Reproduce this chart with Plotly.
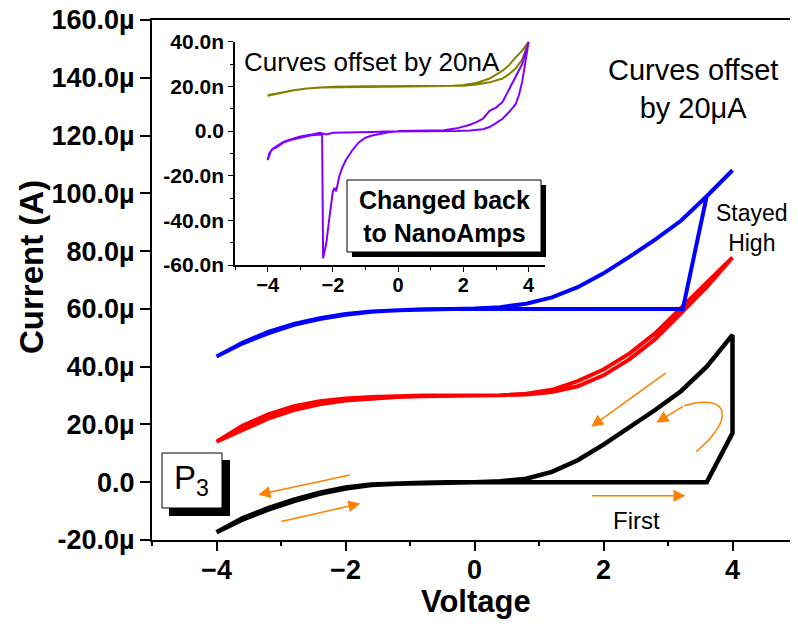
import plotly.graph_objects as go

# ---------------- data (main plot, µA) ----------------
black_v = [0, 0.4, 0.8, 1.2, 1.6, 2.0, 2.4, 2.8, 3.2, 3.6, 4.0, 4.0, 3.6, 3.2, 2.8, 2.4, 2.0, 1.6, 1.2, 0.8, 0.4, 0,
           -0.4, -0.8, -1.2, -1.6, -2.0, -2.4, -2.8, -3.2, -3.6, -4.0, -3.6, -3.2, -2.8, -2.4, -2.0, -1.6, -1.2, -0.8, -0.4, 0]
black_i = [0, 0, 0, 0, 0, 0, 0, 0, 0, 0, 17, 51, 40, 31.5, 25, 18.8, 13, 7.6, 3.6, 1.2, 0.3, 0,
           -0.1, -0.2, -0.5, -1.0, -2.2, -4.0, -6.5, -9.5, -13, -17.3, -12.5, -9, -6, -3.6, -1.8, -0.8, -0.4, -0.2, 0, 0]

red_v = [-4.0, -3.6, -3.2, -2.8, -2.4, -2.0, -1.6, -1.2, -0.8, -0.4, 0, 0.4, 0.8, 1.2, 1.6, 2.0, 2.4, 2.8, 3.2, 3.6, 4.0,
         3.6, 3.2, 2.8, 2.4, 2.0, 1.6, 1.2, 0.8, 0.4, 0, -0.4, -0.8, -1.2, -1.6, -2.0, -2.4, -2.8, -3.2, -3.6, -4.0]
red_i = [14, 19.5, 23.5, 26.3, 28, 29, 29.5, 29.8, 30, 30, 30, 30.1, 30.4, 31.2, 33.2, 37, 42.5, 49.5, 58.5, 67.5, 77.8,
         69, 60, 51.5, 44.5, 39, 35, 32, 30.6, 30.1, 30, 30, 29.8, 29.5, 29, 28.3, 27, 25, 22, 18, 14]

blue_v = [-4, -3.6, -3.2, -2.8, -2.4, -2, -1.6, -1.2, -0.8, -0.4, 0, 0.4, 0.8, 1.2, 1.6, 2.0, 2.4, 2.8, 3.23, 3.6, 4.0,
          3.6, 3.2, 2.8, 2.4, 2.0, 1.6, 1.2, 0.8, 0.4, 0, -0.4, -0.8, -1.2, -1.6, -2, -2.4, -2.8, -3.2, -3.6, -4]
blue_i = [43.5, 48.3, 52, 54.8, 56.8, 58.2, 59.1, 59.6, 59.9, 60, 60, 60, 60, 60, 60, 60, 60, 60, 60, 99, 108,
          99, 90.5, 84, 78, 72.3, 67.5, 64, 61.8, 60.6, 60.1, 60, 59.8, 59.5, 59, 58, 56.5, 54.5, 51.5, 48, 43.5]

# ---------------- data (inset, nA) ----------------
olive_v = [-4.0, -3.6, -3.2, -2.8, -2.4, -2.0, -1.0, 0.0, 1.0, 1.6, 2.0, 2.4, 2.8, 3.2, 3.4, 3.6, 3.8, 4.0,
           3.8, 3.6, 3.4, 3.2, 2.8, 2.4, 2.0, 1.6, 1.0, 0.0, -1.0, -2.0, -2.4, -2.8, -3.2, -3.6, -4.0]
olive_i = [15.8, 17.2, 18.3, 19.0, 19.5, 19.8, 20, 20, 20, 20.1, 20.3, 20.8, 21.8, 23.5, 25.5, 28, 32, 40,
           36, 33, 29.5, 27, 23.5, 21.5, 20.6, 20.2, 20.1, 20, 20, 19.8, 19.5, 19.0, 18.3, 17.2, 16.0]

purple_v = [0, 0.5, 1.0, 1.4, 1.8, 2.2, 2.4, 2.6, 2.8, 3.0, 3.2, 3.4, 3.6, 3.8, 4.0,
            3.9, 3.8, 3.7, 3.6, 3.4, 3.2, 3.0, 2.8, 2.6, 2.2, 1.8, 1.2, 0.6, 0,
            -0.4, -0.8, -1.2, -1.6, -2.0, -2.2, -2.4, -2.6, -2.8, -3.0, -3.2, -3.4, -3.5, -3.6, -3.7, -3.8, -3.9, -4.0,
            -3.95, -3.85, -3.75, -3.65, -3.5, -3.3, -3.0, -2.7, -2.4, -2.33, -2.30, -2.2, -2.1, -2.0, -1.95, -1.9,
            -1.8, -1.7, -1.6, -1.4, -1.2, -1.0, -0.8, -0.6, -0.3, 0.0]
purple_i = [0, 0, 0.1, 0.3, 1.2, 2.8, 4.0, 5.5, 9, 10.5, 13, 18.5, 24, 30, 40,
            30, 22, 16, 12, 8.5, 5.5, 3.5, 1.8, 0.8, 0.2, 0, 0, 0, 0,
            -0.2, -0.4, -0.5, -0.6, -0.8, -1.5, -0.8, -1.4, -1.9, -2.5, -3.3, -4.2, -4.8, -5.6, -6.5, -7.5, -9, -13,
            -10, -8, -7.5, -6.5, -5, -4, -3, -2, -1.6, -1.8, -57, -50, -38, -27, -25.5, -27,
            -20, -16, -13, -8.5, -5, -3, -2, -1.5, -0.6, -0.2]

main_ytick_vals = [-20, 0, 20, 40, 60, 80, 100, 120, 140, 160]
main_ytick_text = ["-20.0µ", "0.0", "20.0µ", "40.0µ", "60.0µ", "80.0µ", "100.0µ", "120.0µ", "140.0µ", "160.0µ"]
main_xtick_vals = [-4, -2, 0, 2, 4]
inset_ytick_vals = [-60, -40, -20, 0, 20, 40]
inset_ytick_text = ["-60.0n", "-40.0n", "-20.0n", "0.0", "20.0n", "40.0n"]
inset_xtick_vals = [-4, -2, 0, 2, 4]

# ---------------- layout helpers (pixel -> paper) ----------------
# the page shows the figure offset by 8 px (body margin), so margins are compensated
W, H = 798, 640
OFF = 8
L, R, T, B = 152 - OFF, 9, 20 - OFF, 108
PW, PH = W - L - R, H - T - B


def px(p):
    return (p - OFF - L) / PW


def py(p):
    return (H - B - (p - OFF)) / PH


FONT = "Liberation Sans, Arial, sans-serif"
ORANGE = "#FF8000"

fig = go.Figure()
fig.add_trace(go.Scatter(x=black_v, y=black_i, mode="lines", line=dict(color="black", width=4.5),
                         xaxis="x", yaxis="y"))
fig.add_trace(go.Scatter(x=red_v, y=red_i, mode="lines", line=dict(color="#FF0000", width=4),
                         xaxis="x", yaxis="y"))
fig.add_trace(go.Scatter(x=blue_v, y=blue_i, mode="lines", line=dict(color="#0000FF", width=4),
                         xaxis="x", yaxis="y"))
fig.add_trace(go.Scatter(x=olive_v, y=olive_i, mode="lines", line=dict(color="#808000", width=2),
                         xaxis="x2", yaxis="y2"))
fig.add_trace(go.Scatter(x=purple_v, y=purple_i, mode="lines", line=dict(color="#8000FF", width=2),
                         xaxis="x2", yaxis="y2"))

axis_common = dict(showgrid=False, zeroline=False, linecolor="black", ticks="outside", tickcolor="black",
                   automargin=False, ticklabeloverflow="allow")

fig.update_layout(
    width=W, height=H,
    margin=dict(l=L, r=R, t=T, b=B),
    paper_bgcolor="white", plot_bgcolor="white",
    showlegend=False,
    xaxis=dict(**axis_common, range=[-5, 5], tickvals=main_xtick_vals, ticklen=9, tickwidth=1.5,
               linewidth=2, mirror=True, ticklabelstandoff=-4,
               minor=dict(dtick=1, ticklen=4, tickcolor="black", ticks="outside", tickwidth=1.5),
               tickfont=dict(family=FONT, size=27, color="black", weight="bold")),
    yaxis=dict(**axis_common, range=[-20, 160], tickvals=main_ytick_vals, ticktext=main_ytick_text,
               ticklen=10, tickwidth=1.5, linewidth=2, mirror=True,
               tickfont=dict(family=FONT, size=27, color="black", weight="bold")),
    xaxis2=dict(**axis_common, domain=[px(235), px(545)], range=[-5, 4.5], anchor="y2",
                tickvals=inset_xtick_vals, ticklen=5, tickwidth=1, linewidth=1.5, ticklabelstandoff=-4,
                minor=dict(dtick=1, ticklen=3, tickcolor="black", ticks="outside"),
                tickfont=dict(family=FONT, size=20, color="black", weight="bold")),
    yaxis2=dict(**axis_common, domain=[py(265), py(41.7)], range=[-60, 40], anchor="x2",
                tickvals=inset_ytick_vals, ticktext=inset_ytick_text, ticklen=5, tickwidth=1, linewidth=1.5,
                minor=dict(dtick=10, ticklen=3, tickcolor="black", ticks="outside"),
                tickfont=dict(family=FONT, size=21, color="black", weight="bold")),
)

shapes = []
# P3 box with shadow
shapes.append(dict(type="rect", xref="paper", yref="paper", x0=px(169), x1=px(230), y0=py(516), y1=py(460),
                   fillcolor="black", line=dict(width=0), layer="above"))
shapes.append(dict(type="rect", xref="paper", yref="paper", x0=px(162), x1=px(222), y0=py(508), y1=py(453),
                   fillcolor="white", line=dict(color="black", width=1), layer="above"))
# Changed back box with shadow
shapes.append(dict(type="rect", xref="paper", yref="paper", x0=px(352), x1=px(546), y0=py(257), y1=py(185),
                   fillcolor="black", line=dict(width=0), layer="above"))
shapes.append(dict(type="rect", xref="paper", yref="paper", x0=px(347), x1=px(541), y0=py(252), y1=py(180),
                   fillcolor="white", line=dict(color="black", width=1), layer="above"))
# curved orange arrow body
shapes.append(dict(type="path", xref="x", yref="y",
                   path="M 3.44,10.6 C 4.05,22 3.95,31 3.25,26.5",
                   line=dict(color=ORANGE, width=1.5), layer="above"))
fig.update_layout(shapes=shapes)


def txt(text, x, y, size, bold=False, xanchor="center", **kw):
    f = dict(family=FONT, size=size, color="black")
    if bold:
        f["weight"] = "bold"
    return dict(text=text, xref="paper", yref="paper", x=px(x), y=py(y), showarrow=False,
                xanchor=xanchor, yanchor="middle", font=f, **kw)


annotations = [
    txt("Current (A)", 31, 267, 33, bold=True, textangle=-90),
    txt("Voltage", 476, 601, 31, bold=True),
    txt("Curves offset<br>by 20μA", 693, 89, 29, align="center"),
    txt("Stayed<br>High", 752, 228, 23, align="center"),
    txt("First", 636, 520, 24),
    txt("P<sub>3</sub>", 191, 480, 33),
    txt("Curves offset by 20nA", 242, 62, 26, xanchor="left"),
    txt("Changed back<br>to NanoAmps", 444, 216, 25, bold=True, align="center"),
]

# orange arrows (head at x,y ; tail at ax,ay in data coords)
arrows = [
    (-3.35, -4.3, -1.91, 2.6),
    (-1.77, -7.4, -3.02, -13.7),
    (3.27, -4.7, 1.80, -4.7),
    (1.81, 19.2, 2.99, 38.2),
    (2.82, 20.6, 3.25, 26.5),
]
for hx, hy, tx, ty in arrows:
    annotations.append(dict(x=hx, y=hy, ax=tx, ay=ty, xref="x", yref="y", axref="x", ayref="y",
                            showarrow=True, arrowhead=2, arrowsize=1.6, arrowwidth=1.5,
                            arrowcolor=ORANGE, text=""))
fig.update_layout(annotations=annotations)

fig.write_html("out.html")
